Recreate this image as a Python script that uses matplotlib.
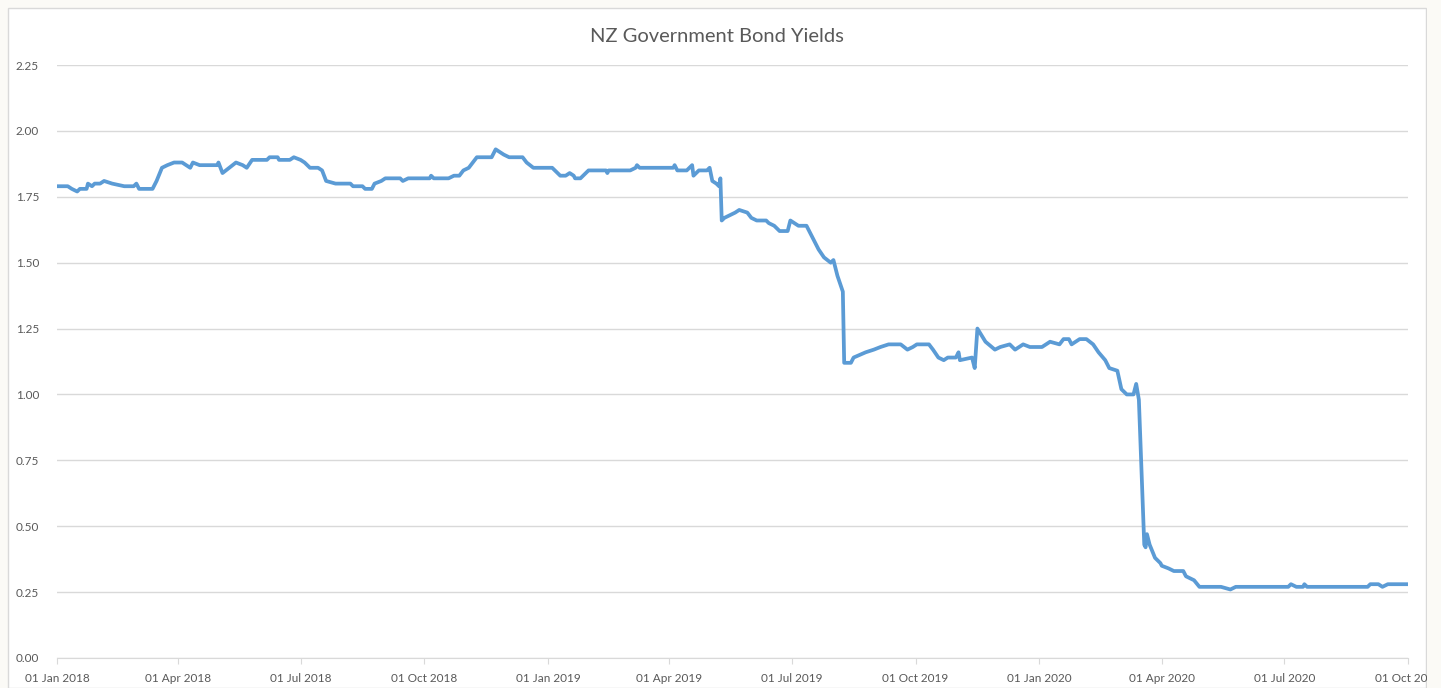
import matplotlib
matplotlib.use("Agg")
import matplotlib.pyplot as plt
import matplotlib.dates as mdates
from matplotlib.patches import Rectangle
import pandas as pd

# yields (approximate turning points)
dates = [
    "2018-01-02", "2018-01-09", "2018-01-12", "2018-01-16", "2018-01-18", "2018-01-23",
    "2018-01-24", "2018-01-27", "2018-01-29", "2018-02-02", "2018-02-05", "2018-02-11",
    "2018-02-20", "2018-02-27", "2018-03-01", "2018-03-03", "2018-03-13", "2018-03-16",
    "2018-03-20", "2018-03-24", "2018-03-29", "2018-04-04", "2018-04-07", "2018-04-10",
    "2018-04-12", "2018-04-17", "2018-04-30", "2018-05-01", "2018-05-04", "2018-05-09",
    "2018-05-14", "2018-05-19", "2018-05-22", "2018-05-26", "2018-06-06", "2018-06-08",
    "2018-06-14", "2018-06-15", "2018-06-23", "2018-06-26", "2018-07-01", "2018-07-04",
    "2018-07-08", "2018-07-14", "2018-07-17", "2018-07-20", "2018-07-27", "2018-08-07",
    "2018-08-09", "2018-08-16", "2018-08-18", "2018-08-23", "2018-08-25", "2018-08-30",
    "2018-09-02", "2018-09-13", "2018-09-15", "2018-09-19", "2018-10-05", "2018-10-06",
    "2018-10-08", "2018-10-19", "2018-10-23", "2018-10-27", "2018-10-30", "2018-11-03",
    "2018-11-09", "2018-11-20", "2018-11-23", "2018-11-26", "2018-11-29", "2018-12-03",
    "2018-12-13", "2018-12-16", "2018-12-21", "2019-01-04", "2019-01-06", "2019-01-08",
    "2019-01-10", "2019-01-14", "2019-01-17", "2019-01-20", "2019-01-21", "2019-01-25",
    "2019-01-27", "2019-01-31", "2019-02-13", "2019-02-14", "2019-02-15", "2019-03-03",
    "2019-03-07", "2019-03-08", "2019-03-10", "2019-04-04", "2019-04-05", "2019-04-07",
    "2019-04-14", "2019-04-16", "2019-04-18", "2019-04-19", "2019-04-23", "2019-04-29",
    "2019-05-01", "2019-05-03", "2019-05-06", "2019-05-08", "2019-05-09", "2019-05-10",
    "2019-05-12", "2019-05-16", "2019-05-20", "2019-05-23", "2019-05-29", "2019-06-01",
    "2019-06-05", "2019-06-12", "2019-06-14", "2019-06-18", "2019-06-22", "2019-06-28",
    "2019-06-30", "2019-07-03", "2019-07-06", "2019-07-12", "2019-07-14", "2019-07-18",
    "2019-07-21", "2019-07-25", "2019-07-30", "2019-08-01", "2019-08-04", "2019-08-06",
    "2019-08-08", "2019-08-09", "2019-08-14", "2019-08-16", "2019-08-25", "2019-08-31",
    "2019-09-05", "2019-09-11", "2019-09-20", "2019-09-25", "2019-09-29", "2019-10-02",
    "2019-10-11", "2019-10-14", "2019-10-18", "2019-10-22", "2019-10-25", "2019-10-31",
    "2019-11-02", "2019-11-03", "2019-11-12", "2019-11-14", "2019-11-16", "2019-11-22",
    "2019-11-29", "2019-12-03", "2019-12-10", "2019-12-14", "2019-12-20", "2019-12-25",
    "2020-01-03", "2020-01-09", "2020-01-16", "2020-01-19", "2020-01-23", "2020-01-25",
    "2020-01-31", "2020-02-05", "2020-02-10", "2020-02-14", "2020-02-19", "2020-02-22",
    "2020-02-28", "2020-03-02", "2020-03-06", "2020-03-11", "2020-03-13", "2020-03-15",
    "2020-03-19", "2020-03-20", "2020-03-21", "2020-03-23", "2020-03-27", "2020-03-31",
    "2020-04-01", "2020-04-06", "2020-04-10", "2020-04-17", "2020-04-19", "2020-04-25",
    "2020-04-29", "2020-05-15", "2020-05-22", "2020-05-26", "2020-07-04", "2020-07-06",
    "2020-07-10", "2020-07-15", "2020-07-16", "2020-07-18", "2020-09-01", "2020-09-03",
    "2020-09-09", "2020-09-12", "2020-09-16", "2020-10-01",
]
yields = [
    1.79, 1.79, 1.78, 1.77, 1.78, 1.78,
    1.80, 1.79, 1.80, 1.80, 1.81, 1.80,
    1.79, 1.79, 1.80, 1.78, 1.78, 1.81,
    1.86, 1.87, 1.88, 1.88, 1.87, 1.86,
    1.88, 1.87, 1.87, 1.88, 1.84, 1.86,
    1.88, 1.87, 1.86, 1.89, 1.89, 1.90,
    1.90, 1.89, 1.89, 1.90, 1.89, 1.88,
    1.86, 1.86, 1.85, 1.81, 1.80, 1.80,
    1.79, 1.79, 1.78, 1.78, 1.80, 1.81,
    1.82, 1.82, 1.81, 1.82, 1.82, 1.83,
    1.82, 1.82, 1.83, 1.83, 1.85, 1.86,
    1.90, 1.90, 1.93, 1.92, 1.91, 1.90,
    1.90, 1.88, 1.86, 1.86, 1.85, 1.84,
    1.83, 1.83, 1.84, 1.83, 1.82, 1.82,
    1.83, 1.85, 1.85, 1.84, 1.85, 1.85,
    1.86, 1.87, 1.86, 1.86, 1.87, 1.85,
    1.85, 1.86, 1.87, 1.83, 1.85, 1.85,
    1.86, 1.81, 1.80, 1.79, 1.82, 1.66,
    1.67, 1.68, 1.69, 1.70, 1.69, 1.67,
    1.66, 1.66, 1.65, 1.64, 1.62, 1.62,
    1.66, 1.65, 1.64, 1.64, 1.62, 1.58,
    1.55, 1.52, 1.50, 1.51, 1.45, 1.42,
    1.39, 1.12, 1.12, 1.14, 1.16, 1.17,
    1.18, 1.19, 1.19, 1.17, 1.18, 1.19,
    1.19, 1.17, 1.14, 1.13, 1.14, 1.14,
    1.16, 1.13, 1.14, 1.10, 1.25, 1.20,
    1.17, 1.18, 1.19, 1.17, 1.19, 1.18,
    1.18, 1.20, 1.19, 1.21, 1.21, 1.19,
    1.21, 1.21, 1.19, 1.16, 1.13, 1.10,
    1.09, 1.02, 1.00, 1.00, 1.04, 0.98,
    0.43, 0.42, 0.47, 0.43, 0.38, 0.36,
    0.35, 0.34, 0.33, 0.33, 0.31, 0.295,
    0.27, 0.27, 0.26, 0.27, 0.27, 0.28,
    0.27, 0.27, 0.28, 0.27, 0.27, 0.28,
    0.28, 0.27, 0.28, 0.28,
]
y_ticks = [0.00, 0.25, 0.50, 0.75, 1.00, 1.25, 1.50, 1.75, 2.00, 2.25]
title = "NZ Government Bond Yields"

x = pd.to_datetime(dates)
W, H = 1441, 688
txt = "#595959"
grid = "#d9d9d9"

plt.rcParams["font.family"] = ["Lato", "DejaVu Sans"]
fig = plt.figure(figsize=(W / 100, H / 100), dpi=100)
fig.patch.set_facecolor("#fbfaf6")

# chart frame
fig.patches.append(Rectangle((8 / W, 0), 1418 / W, 680 / H, transform=fig.transFigure,
                             facecolor="white", edgecolor=grid, lw=1, zorder=-1))

ax = fig.add_axes([57 / W, 1 - 658 / H, (1408 - 57) / W, (658 - 65) / H])
ax.set_facecolor("none")
ax.plot(x, yields, color="#5b9bd5", lw=2.7, solid_joinstyle="round", zorder=3)

ax.set_xlim(pd.Timestamp("2018-01-01"), pd.Timestamp("2020-10-01"))
ax.set_ylim(0, 2.25)
ax.set_yticks(y_ticks)
ax.set_yticklabels([f"{v:.2f}" for v in y_ticks])
ax.xaxis.set_major_locator(mdates.MonthLocator(bymonth=[1, 4, 7, 10]))
ax.xaxis.set_major_formatter(mdates.DateFormatter("%d %b %Y"))

ax.grid(axis="y", color=grid, lw=1)
ax.set_axisbelow(True)
for s in ["top", "right", "left"]:
    ax.spines[s].set_visible(False)
ax.spines["bottom"].set_color(grid)
ax.tick_params(axis="y", length=0, pad=13, labelsize=8.5, labelcolor=txt)
ax.tick_params(axis="x", length=4, color=grid, pad=7, labelsize=8.5, labelcolor=txt)

fig.text(717 / W, 1 - 36 / H, title, ha="center", va="center", fontsize=14.5, color=txt)

# right edge of the screenshot crops the chart
fig.patches.append(Rectangle((1427 / W, 0), 14 / W, 1, transform=fig.transFigure,
                             facecolor="#fbfaf6", edgecolor="none", zorder=10))

fig.savefig("out.png", dpi=100)
